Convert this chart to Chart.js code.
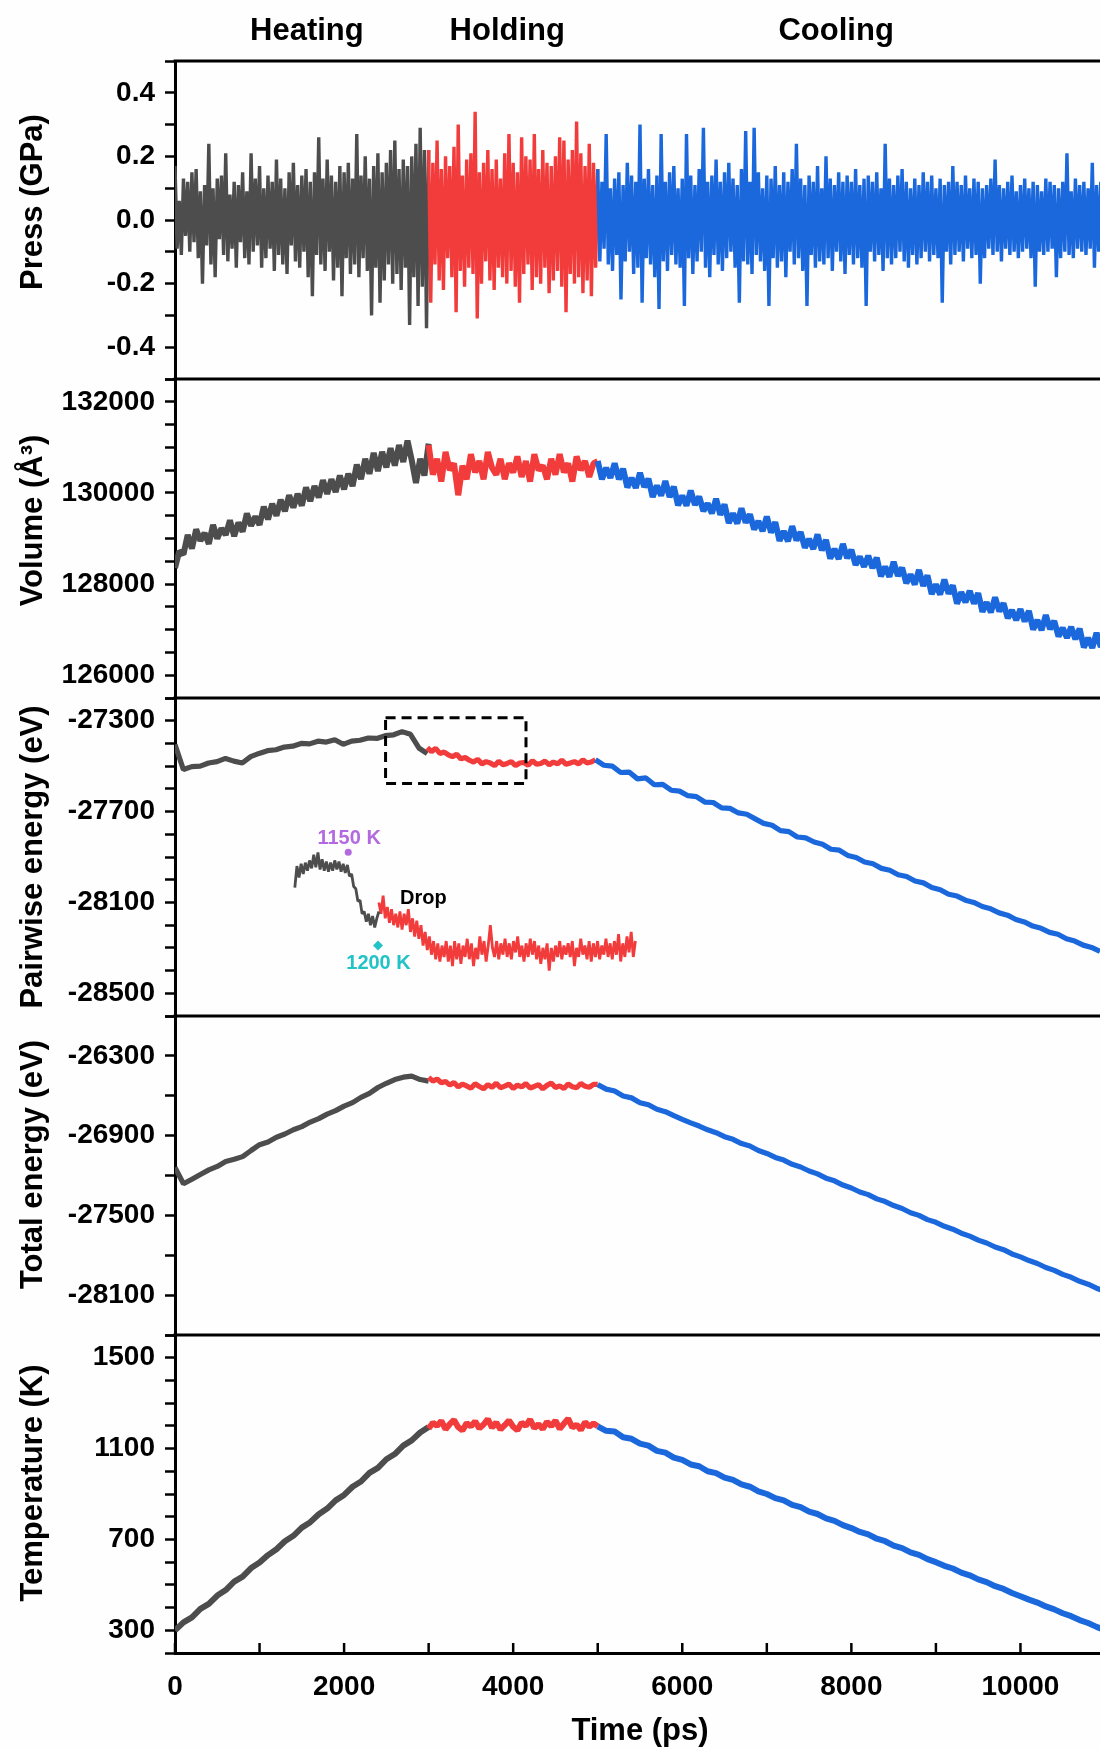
<!DOCTYPE html>
<html>
<head>
<meta charset="utf-8">
<title>Heating / holding / cooling run</title>
<script src="https://cdn.jsdelivr.net/npm/chart.js@4.4.0/dist/chart.umd.min.js"></script>
<style>
  html, body { margin: 0; padding: 0; background: #fefefe; }
  #figure { position: relative; width: 1100px; height: 1749px; overflow: hidden; }
  #figure canvas { position: absolute; left: 0; }
</style>
</head>
<body>
<div id="figure"></div>
<script>
// ---- time axis (ps) ----
const timeMax = 11000;
const timeTickStep = 1000;
const timeLabels = [0, 2000, 4000, 6000, 8000, 10000];
const phaseNames = ['Heating', 'Holding', 'Cooling'];
const phaseNameTimes = [1560, 3930, 7820];
const phaseStarts = [0, 3000, 5000];

// ---- pressure (GPa), one sample every 25 ps ----
const pressStep = 25;
const pressHeat = [
  0.17, -0.09, 0.06, -0.11, 0.13, -0.05, 0.12, -0.10, 0.15, -0.07,
  0.16, -0.12, 0.09, -0.20, 0.11, -0.08, 0.24, -0.14, 0.10, -0.18,
  0.13, -0.06, 0.14, -0.11, 0.21, -0.13, 0.08, -0.09, 0.12, -0.15,
  0.11, -0.07, 0.15, -0.12, 0.09, -0.14, 0.21, -0.10, 0.13, -0.08,
  0.17, -0.15, 0.10, -0.12, 0.14, -0.09, 0.12, -0.16, 0.19, -0.11,
  0.13, -0.14, 0.10, -0.17, 0.15, -0.08, 0.18, -0.13, 0.11, -0.15,
  0.14, -0.10, 0.16, -0.18, 0.12, -0.24, 0.15, -0.11, 0.26, -0.14,
  0.13, -0.16, 0.19, -0.10, 0.14, -0.19, 0.12, -0.15, 0.17, -0.24,
  0.15, -0.12, 0.18, -0.17, 0.13, -0.14, 0.27, -0.18, 0.14, -0.12,
  0.20, -0.16, 0.13, -0.30, 0.17, -0.15, 0.21, -0.26, 0.15, -0.19,
  0.18, -0.14, 0.22, -0.20, 0.25, -0.17, 0.16, -0.22, 0.19, -0.15,
  0.17, -0.33, 0.20, -0.18, 0.24, -0.27, 0.29, -0.21, 0.22, -0.34,
  0.22
];
const pressHold = [
  0.22, -0.26, 0.18, -0.14, 0.25, -0.19, 0.16, -0.22, 0.20, -0.12,
  0.17, -0.18, 0.23, -0.29, 0.30, -0.16, 0.14, -0.21, 0.19, -0.15,
  0.21, -0.17, 0.34, -0.31, 0.15, -0.20, 0.18, -0.13, 0.22, -0.19,
  0.16, -0.22, 0.19, -0.15, 0.13, -0.18, 0.21, -0.20, 0.27, -0.16,
  0.18, -0.21, 0.15, -0.26, 0.26, -0.17, 0.20, -0.14, 0.19, -0.22,
  0.27, -0.18, 0.16, -0.20, 0.22, -0.15, 0.18, -0.23, 0.17, -0.19,
  0.20, -0.16, 0.26, -0.21, 0.25, -0.29, 0.19, -0.17, 0.22, -0.20,
  0.31, -0.18, 0.21, -0.23, 0.17, -0.19, 0.24, -0.24, 0.18, -0.15,
  0.16
];
const pressCool = [
  0.16, -0.13, 0.12, -0.09, 0.27, -0.14, 0.10, -0.16, 0.13, -0.11,
  0.15, -0.25, 0.11, -0.13, 0.18, -0.10, 0.14, -0.17, 0.12, -0.15,
  0.30, -0.26, 0.13, -0.12, 0.16, -0.14, 0.11, -0.18, 0.14, -0.28,
  0.27, -0.13, 0.12, -0.16, 0.15, -0.11, 0.17, -0.14, 0.10, -0.15,
  0.13, -0.27, 0.27, -0.12, 0.14, -0.17, 0.11, -0.13, 0.16, -0.10,
  0.29, -0.15, 0.12, -0.18, 0.14, -0.11, 0.19, -0.14, 0.12, -0.16,
  0.15, -0.12, 0.18, -0.10, 0.13, -0.15, 0.11, -0.26, 0.16, -0.13,
  0.28, -0.14, 0.12, -0.17, 0.29, -0.11, 0.15, -0.13, 0.10, -0.16,
  0.14, -0.27, 0.13, -0.12, 0.17, -0.15, 0.11, -0.13, 0.15, -0.18,
  0.12, -0.10, 0.16, -0.14, 0.24, -0.12, 0.13, -0.16, 0.11, -0.27,
  0.14, -0.11, 0.12, -0.15, 0.17, -0.13, 0.10, -0.14, 0.20, -0.12,
  0.13, -0.16, 0.11, -0.10, 0.15, -0.13, 0.12, -0.17, 0.14, -0.11,
  0.12, -0.14, 0.16, -0.12, 0.11, -0.15, 0.13, -0.27, 0.14, -0.10,
  0.12, -0.13, 0.15, -0.11, 0.10, -0.16, 0.24, -0.12, 0.13, -0.14,
  0.11, -0.12, 0.14, -0.10, 0.16, -0.13, 0.12, -0.15, 0.10, -0.11,
  0.13, -0.14, 0.11, -0.12, 0.15, -0.10, 0.12, -0.13, 0.14, -0.11,
  0.10, -0.12, 0.13, -0.26, 0.11, -0.10, 0.12, -0.14, 0.17, -0.11,
  0.12, -0.10, 0.11, -0.13, 0.14, -0.09, 0.10, -0.12, 0.13, -0.11,
  0.12, -0.20, 0.10, -0.12, 0.11, -0.09, 0.13, -0.11, 0.19, -0.10,
  0.11, -0.13, 0.10, -0.09, 0.12, -0.11, 0.14, -0.10, 0.09, -0.12,
  0.11, -0.10, 0.13, -0.09, 0.10, -0.12, 0.12, -0.21, 0.11, -0.10,
  0.09, -0.11, 0.13, -0.10, 0.12, -0.09, 0.11, -0.18, 0.10, -0.12,
  0.12, -0.10, 0.21, -0.11, 0.09, -0.12, 0.13, -0.09, 0.11, -0.10,
  0.12, -0.11, 0.10, -0.09, 0.18, -0.15, 0.11, -0.10, 0.12, -0.09,
  0.10
];

// ---- volume (A^3), one sample every 50 ps ----
const volStep = 50;
const volHeat = [
  128350, 128720, 128650, 129080, 128780, 129200, 128950, 129120, 128880, 129300,
  129000, 129220, 129080, 129400, 129050, 129350, 129150, 129550, 129280, 129480,
  129300, 129700, 129420, 129760, 129500, 129850, 129600, 129950, 129680, 129980,
  129720, 130120, 129820, 130150, 129900, 130280, 129980, 130300, 130020, 130380,
  130080, 130420, 130150, 130620, 130300, 130750, 130420, 130880, 130480, 130900,
  130560, 130980, 130600, 131050, 130680, 131150, 130720, 130220, 130750, 130380,
  131080
];
const volHold = [
  131050, 130400, 130750, 130250, 130900, 130500, 130650, 129950, 130600, 130300,
  130850, 130450, 130700, 130300, 130900, 130550, 130400, 130750, 130300, 130650,
  130450, 130800, 130350, 130700, 130250, 130850, 130500, 130600, 130300, 130750,
  130400, 130850, 130450, 130650, 130250, 130800, 130500, 130700, 130350, 130650,
  130700
];
const volCool = [
  130700, 130300, 130550, 130330, 130650, 130300, 130530, 130120, 130330, 130110,
  130440, 130130, 130310, 129910, 130160, 129940, 130260, 129910, 130140, 129730,
  129940, 129720, 130050, 129740, 129920, 129600, 129770, 129550, 129870, 129520,
  129750, 129340, 129550, 129330, 129660, 129350, 129530, 129200, 129380, 129160,
  129480, 129130, 129360, 128950, 129160, 128940, 129270, 128960, 129140, 128800,
  128990, 128770, 129090, 128740, 128970, 128560, 128770, 128550, 128880, 128570,
  128750, 128420, 128600, 128380, 128620, 128350, 128580, 128170, 128380, 128160,
  128490, 128180, 128360, 128020, 128210, 127990, 128310, 127960, 128190, 127780,
  127990, 127770, 128100, 127790, 127970, 127570, 127820, 127600, 127850, 127570,
  127800, 127390, 127600, 127380, 127710, 127400, 127580, 127250, 127430, 127210,
  127450, 127180, 127410, 127000, 127210, 126990, 127320, 127010, 127190, 126850,
  127040, 126820, 127060, 126790, 127020, 126610, 126820, 126600, 126930, 126620,
  126800
];

// ---- pairwise energy (eV): 100 ps heating/cooling, 50 ps holding ----
const pairSteps = [100, 50, 100];
const pairHeat = [
  -27405, -27515, -27502, -27500, -27486, -27480, -27466, -27478, -27486, -27458,
  -27444, -27432, -27428, -27416, -27412, -27400, -27402, -27390, -27394, -27384,
  -27404, -27390, -27386, -27376, -27378, -27366, -27362, -27348, -27360, -27420,
  -27445
];
const pairHold = [
  -27418, -27436, -27422, -27444, -27438, -27450, -27458, -27448, -27468, -27462,
  -27474, -27482, -27470, -27490, -27480, -27486, -27498, -27478, -27494, -27488,
  -27480, -27498, -27486, -27484, -27496, -27476, -27492, -27488, -27478, -27494,
  -27482, -27490, -27474, -27492, -27486, -27480, -27490, -27472, -27486, -27482,
  -27472
];
const pairCool = [
  -27472, -27496, -27500, -27528, -27526, -27556, -27552, -27582, -27580, -27606,
  -27610, -27630, -27634, -27658, -27660, -27684, -27686, -27706, -27712, -27732,
  -27752, -27760, -27784, -27788, -27812, -27816, -27834, -27844, -27866, -27870,
  -27893, -27902, -27922, -27930, -27950, -27958, -27978, -27986, -28006, -28014,
  -28034, -28044, -28064, -28072, -28090, -28100, -28118, -28128, -28146, -28156,
  -28175, -28186, -28204, -28214, -28232, -28240, -28260, -28270, -28288, -28298,
  -28315
];

// magnified copy of the boxed region, drawn inside the pairwise panel
const insetStep = 25;
const insetStarts = [1425, 2425];
const insetHeat = [
  -28035, -27940, -27990, -27930, -27975, -27925, -27960, -27915, -27950, -27890,
  -27945, -27880, -27955, -27910, -27960, -27920, -27965, -27925, -27960, -27915,
  -27955, -27920, -27965, -27930, -27970, -27935, -27985, -27975, -28030, -28040,
  -28095, -28090, -28150, -28140, -28185, -28150, -28200, -28160, -28210, -28170,
  -28140
];
const insetHold = [
  -28100, -28150, -28070, -28170, -28120, -28190, -28130, -28200, -28150, -28210,
  -28140, -28220, -28150, -28200, -28130, -28230, -28170, -28250, -28180, -28260,
  -28200, -28290, -28230, -28310, -28250, -28330, -28270, -28350, -28280, -28360,
  -28290, -28340, -28270, -28360, -28290, -28380, -28270, -28350, -28280, -28370,
  -28290, -28340, -28260, -28350, -28280, -28380, -28300, -28350, -28250, -28330,
  -28270, -28360, -28290, -28200, -28300, -28340, -28270, -28350, -28280, -28330,
  -28260, -28340, -28280, -28350, -28270, -28320, -28250, -28340, -28290, -28360,
  -28280, -28340, -28260, -28330, -28270, -28350, -28290, -28370, -28300, -28350,
  -28280, -28400, -28300, -28360, -28290, -28340, -28270, -28350, -28290, -28330,
  -28280, -28340, -28270, -28380, -28300, -28340, -28260, -28330, -28290, -28350,
  -28270, -28360, -28280, -28340, -28270, -28350, -28290, -28330, -28260, -28340,
  -28280, -28350, -28270, -28330, -28240, -28360, -28280, -28340, -28250, -28320,
  -28230, -28340, -28270
];
const zoomBoxTimes = [2504, 4174];
const zoomBoxEnergies = [-27287, -27576];
const markTimes = [2060, 2414];          // 1150 K dot, 1200 K diamond
const markEnergies = [-27879, -28290];
const noteTexts = ['1150 K', 'Drop', '1200 K'];
const noteTimes = [2071, 2954, 2420];
const noteEnergies = [-27843, -28107, -28392];

// ---- total energy (eV) ----
const totalSteps = [100, 50, 100];
const totalHeat = [
  -27140, -27262, -27228, -27192, -27158, -27132, -27094, -27078, -27058, -27012,
  -26968, -26948, -26912, -26888, -26856, -26832, -26798, -26772, -26738, -26712,
  -26678, -26652, -26612, -26582, -26538, -26506, -26478, -26460, -26452, -26478,
  -26490
];
const totalHold = [
  -26462, -26490, -26474, -26502, -26492, -26520, -26500, -26534, -26512, -26526,
  -26544, -26510, -26530, -26548, -26516, -26536, -26506, -26540, -26528, -26512,
  -26546, -26520, -26534, -26508, -26542, -26530, -26516, -26548, -26522, -26504,
  -26538, -26526, -26546, -26512, -26532, -26540, -26508, -26528, -26536, -26514,
  -26515
];
const totalCool = [
  -26516, -26550, -26564, -26602, -26616, -26652, -26668, -26702, -26720, -26750,
  -26778, -26804, -26828, -26856, -26878, -26908, -26928, -26960, -26978, -27012,
  -27034, -27064, -27084, -27116, -27136, -27166, -27188, -27220, -27240, -27272,
  -27294, -27324, -27344, -27376, -27396, -27426, -27448, -27480, -27500, -27532,
  -27552, -27582, -27604, -27634, -27656, -27686, -27708, -27738, -27758, -27790,
  -27812, -27840, -27862, -27892, -27914, -27944, -27966, -27996, -28018, -28048,
  -28072
];

// ---- temperature (K) ----
const tempSteps = [100, 50, 100];
const tempHeat = [
  300, 335, 357, 394, 416, 453, 477, 514, 536, 574,
  598, 631, 657, 692, 716, 752, 776, 811, 836, 872,
  896, 932, 955, 993, 1015, 1053, 1076, 1113, 1136, 1171,
  1195
];
const tempHold = [
  1188, 1214, 1200, 1222, 1185, 1208, 1226, 1194, 1180, 1212,
  1198, 1220, 1189, 1206, 1230, 1192, 1215, 1184, 1203, 1224,
  1196, 1181, 1214, 1200, 1228, 1190, 1207, 1186, 1218, 1199,
  1223, 1187, 1210, 1232, 1193, 1205, 1182, 1216, 1197, 1211,
  1198
];
const tempCool = [
  1198, 1178, 1175, 1150, 1143, 1122, 1113, 1090, 1082, 1060,
  1050, 1030, 1022, 1000, 992, 972, 962, 942, 932, 912,
  900, 882, 872, 852, 842, 822, 812, 793, 782, 763,
  750, 733, 722, 703, 692, 673, 662, 643, 632, 613,
  600, 584, 572, 554, 542, 524, 512, 494, 482, 464,
  450, 435, 422, 405, 392, 375, 362, 345, 332, 315,
  300
];

// ---- styling ----
const FONT = "'Liberation Sans', Arial, Helvetica, sans-serif";
const GRAY = '#4d4d4d';
const RED = '#f23c3c';
const BLUE = '#1a68dc';
const PURPLE = '#b36ae0';
const CYAN = '#22c3c6';
const phaseColors = [GRAY, RED, BLUE];
const NOTE_COLORS = [PURPLE, '#000000', CYAN];

Chart.defaults.font.family = FONT;
Chart.defaults.color = '#000';

const plotLeft = 175;
const canvasWidth = 1105;
const areaTops = [61, 379, 698, 1016, 1335];
const areaBottoms = [379, 698, 1016, 1335, 1653];
const pageHeight = 1749;

function toPoints(values, start, step) {
  return values.map((v, i) => ({ x: start + i * step, y: v }));
}

function majorEvery(base, every) {
  return v => (Math.abs(Math.round(v - base)) % every === 0 ? String(v) : '');
}

function pressLabel(v) {
  if (Math.round(v * 10) % 2 !== 0) return '';
  return Math.abs(v) < 1e-9 ? '0.0' : v.toFixed(1);
}

function phaseSeries(arrays, steps, width) {
  return arrays.map((values, k) => ({
    data: toPoints(values, phaseStarts[k], steps[k]),
    borderColor: phaseColors[k],
    borderWidth: width,
    order: 3 - k
  }));
}

function drawHeaders(chart) {
  const ctx = chart.ctx;
  const x = chart.scales.x;
  ctx.save();
  ctx.font = 'bold 31px ' + FONT;
  ctx.fillStyle = '#000';
  ctx.textAlign = 'center';
  ctx.textBaseline = 'alphabetic';
  phaseNames.forEach((name, i) => ctx.fillText(name, x.getPixelForValue(phaseNameTimes[i]), 40));
  ctx.restore();
}

function drawInsetNotes(chart) {
  const ctx = chart.ctx;
  const x = chart.scales.x;
  const y = chart.scales.y;
  ctx.save();
  // dashed box around the region that is magnified below
  const bx0 = x.getPixelForValue(zoomBoxTimes[0]);
  const bx1 = x.getPixelForValue(zoomBoxTimes[1]);
  const by0 = y.getPixelForValue(zoomBoxEnergies[0]);
  const by1 = y.getPixelForValue(zoomBoxEnergies[1]);
  ctx.strokeStyle = '#000';
  ctx.lineWidth = 3;
  ctx.setLineDash([10, 6]);
  ctx.strokeRect(bx0, by0, bx1 - bx0, by1 - by0);
  ctx.setLineDash([]);
  ctx.font = 'bold 20px ' + FONT;
  ctx.textAlign = 'center';
  ctx.textBaseline = 'alphabetic';
  noteTexts.forEach((text, i) => {
    ctx.fillStyle = NOTE_COLORS[i];
    ctx.fillText(text, x.getPixelForValue(noteTimes[i]), y.getPixelForValue(noteEnergies[i]));
  });
  ctx.restore();
}

function drawTimeAxis(chart) {
  const ctx = chart.ctx;
  const area = chart.chartArea;
  const x = chart.scales.x;
  ctx.save();
  // inward ticks on the shared time axis
  ctx.strokeStyle = '#000';
  ctx.lineWidth = 2.5;
  x.ticks.forEach(t => {
    const px = x.getPixelForValue(t.value);
    ctx.beginPath();
    ctx.moveTo(px, area.bottom);
    ctx.lineTo(px, area.bottom - 10);
    ctx.stroke();
  });
  ctx.font = 'bold 31px ' + FONT;
  ctx.fillStyle = '#000';
  ctx.textAlign = 'center';
  ctx.textBaseline = 'alphabetic';
  ctx.fillText('Time (ps)', (area.left + area.right) / 2, area.bottom + 87);
  ctx.restore();
}

const insetDatasets = [
  { data: toPoints(insetHeat, insetStarts[0], insetStep), borderColor: GRAY, borderWidth: 2.8, order: 0 },
  { data: toPoints(insetHold, insetStarts[1], insetStep), borderColor: RED, borderWidth: 2.8, order: 0 },
  { data: [{ x: markTimes[0], y: markEnergies[0] }], showLine: false, pointRadius: 3.5, pointStyle: 'circle',
    pointBackgroundColor: PURPLE, pointBorderWidth: 0, order: 0 },
  { data: [{ x: markTimes[1], y: markEnergies[1] }], showLine: false, pointRadius: 5, pointStyle: 'rectRot',
    pointBackgroundColor: CYAN, pointBorderWidth: 0, order: 0 }
];

const panels = [
  {
    title: 'Press (GPa)', titleShift: -18, min: -0.5, max: 0.5, step: 0.1, label: pressLabel,
    datasets: phaseSeries([pressHeat, pressHold, pressCool], [pressStep, pressStep, pressStep], 3.4),
    draw: drawHeaders
  },
  {
    title: 'Volume (Å³)', titleShift: -18, min: 125500, max: 132500, step: 500, label: majorEvery(132000, 2000),
    datasets: phaseSeries([volHeat, volHold, volCool], [volStep, volStep, volStep], 6)
  },
  {
    title: 'Pairwise energy (eV)', titleShift: 0, min: -28600, max: -27200, step: 100, label: majorEvery(-27300, 400),
    datasets: phaseSeries([pairHeat, pairHold, pairCool], pairSteps, 5.2).concat(insetDatasets),
    draw: drawInsetNotes
  },
  {
    title: 'Total energy (eV)', titleShift: -11, min: -28400, max: -26000, step: 300, label: majorEvery(-26300, 600),
    datasets: phaseSeries([totalHeat, totalHold, totalCool], totalSteps, 5.2)
  },
  {
    title: 'Temperature (K)', titleShift: -11, min: 200, max: 1600, step: 100, label: majorEvery(300, 400),
    datasets: phaseSeries([tempHeat, tempHold, tempCool], tempSteps, 6),
    draw: drawTimeAxis
  }
];

function framePlugin(panel) {
  return {
    id: 'panelFrame',
    afterDraw(chart) {
      const ctx = chart.ctx;
      const area = chart.chartArea;
      ctx.save();
      ctx.strokeStyle = '#000';
      ctx.lineWidth = 3;
      ctx.beginPath();
      ctx.moveTo(area.left - 1.5, area.top);
      ctx.lineTo(chart.width, area.top);
      ctx.stroke();
      ctx.translate(33, (area.top + area.bottom) / 2 + panel.titleShift);
      ctx.rotate(-Math.PI / 2);
      ctx.font = 'bold 31px ' + FONT;
      ctx.fillStyle = '#000';
      ctx.textAlign = 'center';
      ctx.textBaseline = 'middle';
      ctx.fillText(panel.title, 0, 0);
      ctx.restore();
      if (panel.draw) panel.draw(chart);
    }
  };
}

function buildPanel(panel, i) {
  const isTop = i === 0;
  const isBottom = i === panels.length - 1;
  const padTop = isTop ? areaTops[0] : 6;
  const padBottom = isBottom ? 0 : 6;
  const canvasTop = areaTops[i] - padTop;
  const areaHeight = areaBottoms[i] - areaTops[i];
  const height = padTop + areaHeight + (isBottom ? pageHeight - areaBottoms[i] : padBottom);

  const canvas = document.createElement('canvas');
  canvas.width = canvasWidth;
  canvas.height = height;
  canvas.style.top = canvasTop + 'px';
  canvas.style.width = canvasWidth + 'px';
  canvas.style.height = height + 'px';
  document.getElementById('figure').appendChild(canvas);

  const xScale = {
    type: 'linear',
    min: 0,
    max: timeMax,
    display: isBottom,
    grid: { display: false },
    border: { display: true, width: 3, color: '#000' },
    ticks: {
      stepSize: timeTickStep,
      autoSkip: false,
      maxRotation: 0,
      padding: 9,
      color: '#000',
      font: { size: 28, weight: 'bold' },
      callback: v => (timeLabels.includes(v) ? String(v) : '')
    }
  };
  if (isBottom) {
    xScale.afterFit = s => {
      s.height = pageHeight - areaBottoms[i];
      s.paddingLeft = 0;
      s.paddingRight = 0;
    };
  }

  new Chart(canvas, {
    type: 'line',
    data: { datasets: panel.datasets },
    options: {
      responsive: false,
      animation: false,
      devicePixelRatio: 1,
      events: [],
      parsing: false,
      normalized: true,
      layout: { padding: { top: padTop, bottom: padBottom, left: 0, right: 0 } },
      elements: {
        point: { radius: 0 },
        line: { tension: 0, borderJoinStyle: 'bevel', borderCapStyle: 'butt' }
      },
      plugins: { legend: { display: false }, tooltip: { enabled: false } },
      scales: {
        x: xScale,
        y: {
          type: 'linear',
          min: panel.min,
          max: panel.max,
          grid: { display: true, drawOnChartArea: false, drawTicks: true, tickLength: 10, tickWidth: 2.5, tickColor: '#000' },
          border: { display: true, width: 3, color: '#000' },
          ticks: {
            stepSize: panel.step,
            autoSkip: false,
            padding: 10,
            color: '#000',
            font: { size: 28, weight: 'bold' },
            callback: panel.label
          },
          afterFit: s => {
            s.width = plotLeft;
            s.paddingTop = 0;
            s.paddingBottom = 0;
          }
        }
      }
    },
    plugins: [framePlugin(panel)]
  });
}

panels.forEach(buildPanel);
</script>
</body>
</html>
